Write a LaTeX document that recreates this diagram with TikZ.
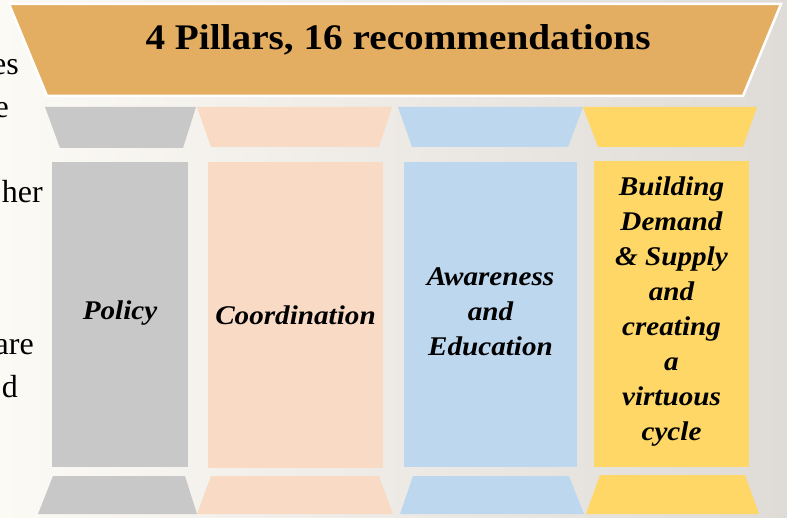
\documentclass[tikz,border=0pt]{standalone}
\usepackage{fontspec}
\setmainfont{Liberation Serif}
\newfontfamily\titlefont[FakeStretch=1.09]{Liberation Serif}
\newfontfamily\pillarfont[FakeStretch=1.08]{Liberation Serif}
\definecolor{banner}{HTML}{E3AE62}
\definecolor{pgrey}{HTML}{C8C8C8}
\definecolor{ppeach}{HTML}{F8DAC5}
\definecolor{pblue}{HTML}{BDD7EE}
\definecolor{pyellow}{HTML}{FED766}
\definecolor{bgleft}{HTML}{FCFAF5}
\definecolor{bgmid}{HTML}{F1EEEA}
\definecolor{bgright}{HTML}{DFDBD7}
\tikzset{
  pillartext/.style={align=center, inner sep=0pt,
    font=\pillarfont\bfseries\itshape\fontsize{27}{35}\selectfont},
  sidetext/.style={anchor=base east, inner sep=0pt,
    font=\fontsize{32}{38}\selectfont},
  titletext/.style={inner sep=0pt, font=\titlefont\bfseries\fontsize{36}{40}\selectfont},
}
\begin{document}
\begin{tikzpicture}[x=1pt, y=-1pt]
\useasboundingbox (0,0) rectangle (787,518);
\begin{scope}
\clip (0,0) rectangle (787,518);
% soft backdrop
\shade[left color=bgleft, middle color=bgmid, right color=bgright] (0,0) rectangle (787,518);

% fragments of running text at the left edge
\node[sidetext] (t1) at (19,75) {es};
\node[sidetext] (t2) at (9,118) {e};
\node[sidetext] (t3) at (43,203) {her};
\node[sidetext] (t4) at (34,355) {are};
\node[sidetext] (t5) at (18,397) {d};

% roof banner
\fill[banner, draw=white, line width=2.5pt, line join=miter]
  (9,4) -- (781,4) -- (743,96) -- (47,96) -- cycle;
\node[titletext] (title) at (398,40) {4 Pillars, 16 recommendations};

% capitals
\fill[pgrey]   (45,107)  -- (196,107) -- (183,148) -- (60,148)  -- cycle;
\fill[ppeach]  (197,107) -- (392,107) -- (379,147) -- (211,147) -- cycle;
\fill[pblue]   (398,107) -- (583,107) -- (568,147) -- (412,147) -- cycle;
\fill[pyellow] (583,107) -- (757,107) -- (743,147) -- (598,147) -- cycle;

% shafts
\fill[pgrey]   (52,162)  rectangle (188,467);
\fill[ppeach]  (208,162) rectangle (383,468);
\fill[pblue]   (404,162) rectangle (577,467);
\fill[pyellow] (594,161) rectangle (749,467);

% bases
\fill[pgrey]   (53,476)  -- (185,476) -- (197,514) -- (38,514)  -- cycle;
\fill[ppeach]  (211,476) -- (379,476) -- (393,514) -- (197,514) -- cycle;
\fill[pblue]   (413,476) -- (569,476) -- (584,514) -- (400,514) -- cycle;
\fill[pyellow] (600,475) -- (745,475) -- (759,514) -- (586,514) -- cycle;

% pillar labels
\node[pillartext] (policy) at (120,313) {Policy};
\node[pillartext] (coord)  at (295.5,315) {Coordination};
\node[pillartext] (aware)  at (490.5,312) {Awareness\\and\\Education};
\node[pillartext] (build)  at (671.5,312) {Building\\Demand\\\& Supply\\and\\creating\\a\\virtuous\\cycle};
\end{scope}
\end{tikzpicture}
\end{document}
